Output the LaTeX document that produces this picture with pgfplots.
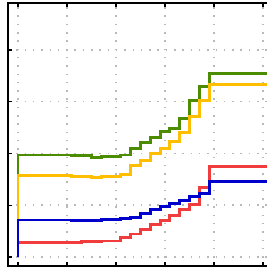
\documentclass[border=0pt]{standalone}
\usepackage{pgfplots}
\pgfplotsset{compat=1.18}
\definecolor{cgreen}{RGB}{76,140,0}
\definecolor{cyellow}{RGB}{255,190,0}
\definecolor{cred}{RGB}{240,60,60}
\definecolor{cblue}{RGB}{0,0,204}
\definecolor{cgrid}{RGB}{185,185,185}
\begin{document}
\begin{tikzpicture}
\path[use as bounding box] (-8bp,-2bp) rectangle (259bp,266bp);
\clip (-8bp,-2bp) rectangle (259bp,266bp);
\begin{axis}[
  at={(0,0)}, anchor=south west,
  scale only axis,
  width=264.8bp, height=262.5bp,
  xmin=-0.204, xmax=5.2,
  ymin=-0.174, ymax=4.898,
  xtick={0,1,2,3,4,5},
  ytick={0,1,2,3,4},
  xticklabels={}, yticklabels={},
  tick align=inside,
  major tick length=4bp,
  tick style={black, line width=1.2bp},
  axis line style={black, line width=2bp},
  grid=major,
  major grid style={cgrid, line width=1.5bp, dash pattern=on 1.5bp off 6.8bp},
  const plot,
  every axis plot/.append style={line width=2.9bp, mark=none},
]
\addplot[cgreen] coordinates {
(0,0) (0,1.97) (1.1,1.96) (1.5,1.93) (1.7,1.94) (2.1,1.97) (2.3,2.10)
(2.5,2.21) (2.7,2.31) (2.9,2.42) (3.1,2.49) (3.3,2.68) (3.5,3.03)
(3.7,3.30) (3.9,3.55) (5.3,3.55)};
\addplot[cyellow] coordinates {
(0,0) (0,1.57) (1.1,1.56) (1.5,1.54) (1.7,1.56) (2.1,1.60) (2.3,1.76)
(2.5,1.87) (2.7,2.00) (2.9,2.10) (3.1,2.23) (3.3,2.40) (3.5,2.72)
(3.7,3.02) (3.9,3.34) (5.3,3.34)};
\addplot[cred] coordinates {
(0,0) (0,0.285) (1.1,0.275) (1.3,0.30) (1.7,0.31) (2.1,0.37) (2.3,0.445)
(2.5,0.535) (2.7,0.62) (2.9,0.70) (3.1,0.80) (3.3,0.91) (3.5,1.01)
(3.7,1.35) (3.9,1.745) (5.3,1.745)};
\addplot[cblue] coordinates {
(0,0) (0,0.715) (1.1,0.70) (1.3,0.71) (1.7,0.72) (2.1,0.74) (2.3,0.77)
(2.5,0.845) (2.7,0.91) (2.9,0.97) (3.1,1.04) (3.3,1.10) (3.5,1.165)
(3.7,1.23) (3.9,1.45) (5.3,1.45)};
\end{axis}
\end{tikzpicture}
\end{document}
